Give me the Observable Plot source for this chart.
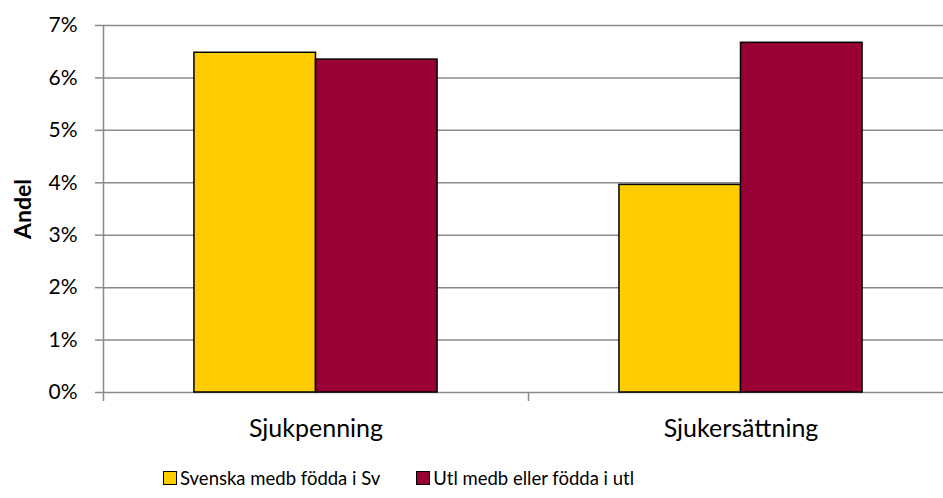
<!DOCTYPE html>
<html>
<head>
<meta charset="utf-8">
<script src="https://cdn.jsdelivr.net/npm/d3@7"></script>
<script src="https://cdn.jsdelivr.net/npm/@observablehq/plot@0.6"></script>
<style>
  body { margin: 0; background: #fff; font-family: Lato, "Open Sans", sans-serif; }
  #legend { display: flex; align-items: center; padding-left: 163px; margin-top: 12px; font-size: 18.5px; color: #000; }
  .item { display: flex; align-items: center; margin-right: 36px; }
  .sw { width: 12px; height: 12px; border: 1px solid #000; margin-right: 3px; }
</style>
</head>
<body>
<div id="chart"></div>
<div id="legend"></div>
<script>
const categories = ["Sjukpenning", "Sjukersättning"];
const series = ["Svenska medb födda i Sv", "Utl medb eller födda i utl"];
const svenska = [0.0648, 0.0396];
const utl = [0.0635, 0.0667];
const colors = ["#FFCC00", "#990033"];
const yTicks = [0, 0.01, 0.02, 0.03, 0.04, 0.05, 0.06, 0.07];
const yTickLabels = ["0%", "1%", "2%", "3%", "4%", "5%", "6%", "7%"];

const values = [svenska, utl];
const barWidth = 0.286; // fraction of a category slot
const rows = [];
categories.forEach((c, ci) => {
  series.forEach((s, si) => {
    const x1 = ci + 0.5 + (si - series.length / 2) * barWidth;
    rows.push({category: c, series: s, value: values[si][ci], x1, x2: x1 + barWidth});
  });
});

const chart = Plot.plot({
  width: 943,
  height: 455,
  marginLeft: 103,
  marginRight: -10,
  marginTop: 25,
  marginBottom: 63,
  style: {fontFamily: "Lato, 'Open Sans', sans-serif", fontSize: "20px", color: "#000", background: "#fff"},
  x: {domain: [0, categories.length], axis: null},
  y: {domain: [0, 0.07], axis: null},
  color: {domain: series, range: colors},
  marks: [
    Plot.ruleY(yTicks, {stroke: "#8a8a8a", strokeWidth: 1.5}),
    Plot.axisY({ticks: yTicks, tickFormat: () => "", tickSize: 8, stroke: "#8a8a8a", strokeWidth: 1.5, strokeOpacity: 1, label: null}),
    Plot.text(yTicks, {y: d => d, text: (d, i) => yTickLabels[i], frameAnchor: "left", textAnchor: "end", dx: -26, fontSize: 21, fill: "#000"}),
    Plot.text(["Andel"], {frameAnchor: "left", textAnchor: "middle", dx: -80, rotate: -90, fontSize: 23, fontWeight: "bold", fill: "#000"}),
    Plot.ruleX([0], {y1: yTicks[0], y2: yTicks[yTicks.length - 1], stroke: "#8a8a8a", strokeWidth: 1.5}),
    Plot.axisX({ticks: d3.range(categories.length + 1), tickFormat: () => "", tickSize: 9, stroke: "#8a8a8a", strokeWidth: 1.5, strokeOpacity: 1}),
    Plot.axisX({ticks: categories.map((c, i) => i + 0.5), tickFormat: d => categories[Math.floor(d)], tickSize: 0, tickPadding: 27}),
    Plot.rectY(rows, {x1: "x1", x2: "x2", y1: 0, y2: "value", fill: "series", stroke: "#000", strokeWidth: 1.5})
  ]
});
d3.select(chart).selectAll("g[aria-label='x-axis tick label']").attr("font-size", null).style("font-size", "25px");
document.getElementById("chart").appendChild(chart);

const legend = document.getElementById("legend");
series.forEach((s, i) => {
  const item = document.createElement("div");
  item.className = "item";
  const sw = document.createElement("span");
  sw.className = "sw";
  sw.style.background = colors[i];
  const t = document.createElement("span");
  t.textContent = s;
  item.appendChild(sw);
  item.appendChild(t);
  legend.appendChild(item);
});
</script>
</body>
</html>
